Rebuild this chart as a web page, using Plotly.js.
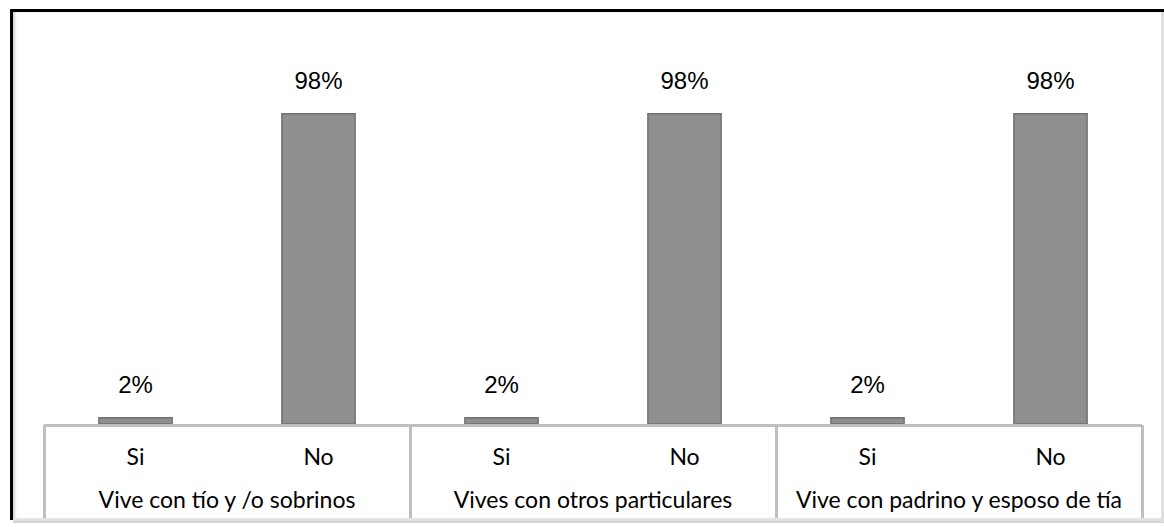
<!DOCTYPE html>
<html>
<head>
<meta charset="utf-8">
<script src="https://cdn.plot.ly/plotly-3.0.1.min.js"></script>
<style>
html,body{margin:0;padding:0;background:#fff;}
#wrap{position:relative;width:1164px;height:527px;}
#chart{position:absolute;left:0;top:0;width:1164px;height:527px;}
#frame{position:absolute;left:10px;top:9px;width:1160px;height:508px;border-top:3px solid #000;border-left:3px solid #000;
  box-shadow:inset 3px 0 3px -1px #cfcfcf;pointer-events:none;}
#shadowB{position:absolute;left:13px;top:518px;width:1151px;height:5px;background:linear-gradient(#e8e8e8,#d0d0d0);pointer-events:none;}
#shadowR{position:absolute;left:1161px;top:12px;width:3px;height:510px;background:#e0e0e0;pointer-events:none;}
</style>
</head>
<body>
<div id="wrap">
<div id="chart"></div>
<div id="frame"></div>
<div id="shadowB"></div>
<div id="shadowR"></div>
</div>
<script>
var groups = ["Vive con tío y /o sobrinos", "Vive con tío y /o sobrinos",
              "Vives con otros particulares", "Vives con otros particulares",
              "Vive con padrino y esposo de tía", "Vive con padrino y esposo de tía"];
var answers = ["Si", "No", "Si", "No", "Si", "No"];
var values = [0.02, 0.98, 0.02, 0.98, 0.02, 0.98];
var labels = ["2%", "98%", "2%", "98%", "2%", "98%"];

// derived positions of categories on the multicategory axis (index based)
var idx = answers.map(function (a, i) { return i; });
var groupNames = [];
groups.forEach(function (g) { if (groupNames.indexOf(g) < 0) groupNames.push(g); });
var groupCenters = groupNames.map(function (g) {
  var ii = idx.filter(function (i) { return groups[i] === g; });
  return ii.reduce(function (s, v) { return s + v; }, 0) / ii.length;
});
var groupBounds = [-0.5];
groupNames.forEach(function (g) {
  var ii = idx.filter(function (i) { return groups[i] === g; });
  groupBounds.push(ii[ii.length - 1] + 0.5);
});
var xr = [-0.5, answers.length - 0.5];

var bars = {
  type: "bar",
  x: [groups, answers],
  y: values,
  marker: {color: "#8f8f8f", line: {color: "#707070", width: 1.5}},
  hoverinfo: "skip",
  showlegend: false
};
var texts = {
  type: "scatter",
  mode: "markers+text",
  x: [groups, answers],
  y: values,
  text: labels,
  textposition: "top center",
  textfont: {family: "Liberation Sans, Arial, sans-serif", size: 24, color: "#000"},
  marker: {size: 28, opacity: 0},
  hoverinfo: "skip",
  showlegend: false,
  cliponaxis: false
};
// invisible helper traces to activate the label axes
var helper2 = {type: "scatter", x: idx, y: values.map(function () { return 0; }), xaxis: "x2", yaxis: "y",
  mode: "markers", marker: {opacity: 0}, hoverinfo: "skip", showlegend: false};
var helper3 = {type: "scatter", x: idx, y: values.map(function () { return 0; }), xaxis: "x3", yaxis: "y",
  mode: "markers", marker: {opacity: 0}, hoverinfo: "skip", showlegend: false};

var catFont = {family: "Lato, Calibri, sans-serif", size: 23, color: "#000"};
var layout = {
  width: 1164, height: 527,
  margin: {l: 44, r: 22, t: 44, b: 103},
  paper_bgcolor: "#fff", plot_bgcolor: "#fff",
  bargap: 0.6,
  showlegend: false,
  xaxis: {
    type: "multicategory",
    showline: true, linecolor: "#bfbfbf", linewidth: 3,
    showdividers: false, showticklabels: false, ticks: "",
    showgrid: false, zeroline: false
  },
  xaxis2: {
    type: "linear", overlaying: "x", anchor: "y", side: "bottom",
    range: xr, tickmode: "array", tickvals: idx, ticktext: answers,
    ticks: "", ticklabelstandoff: 17, tickfont: catFont,
    showgrid: false, zeroline: false, showline: false,
    minor: {tickmode: "array", tickvals: groupBounds, ticks: "outside", ticklen: 93, tickwidth: 3, tickcolor: "#bfbfbf", showgrid: false}
  },
  xaxis3: {
    type: "linear", overlaying: "x", anchor: "y", side: "bottom",
    range: xr, tickmode: "array", tickvals: groupCenters, ticktext: groupNames,
    ticks: "", ticklabelstandoff: 60, tickfont: catFont,
    showgrid: false, zeroline: false, showline: false
  },
  yaxis: {
    range: [0, 1.2], visible: false, showgrid: false, zeroline: false, fixedrange: true
  }
};

Plotly.newPlot("chart", [bars, texts, helper2, helper3], layout, {displayModeBar: false, staticPlot: true});
</script>
</body>
</html>
